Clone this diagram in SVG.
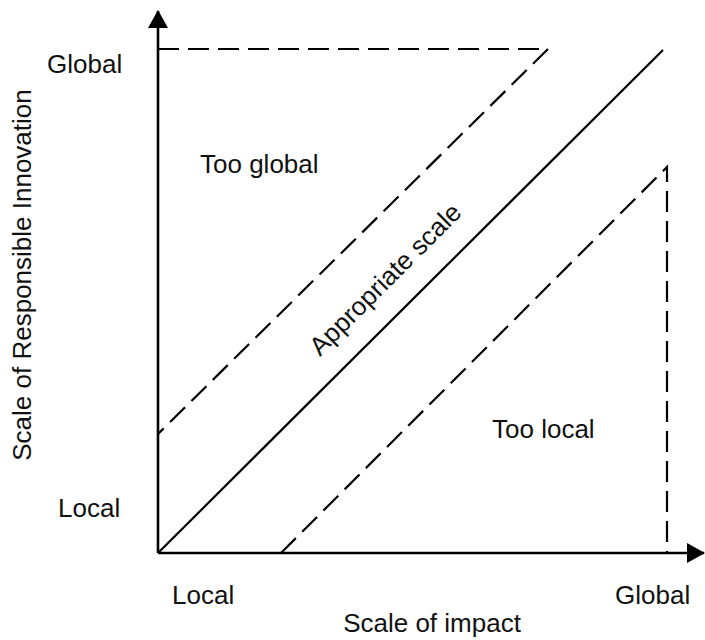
<svg xmlns="http://www.w3.org/2000/svg" width="705" height="640" viewBox="0 0 705 640">
<style>
.t{font-family:"Liberation Sans",Arial,sans-serif;font-size:26px;fill:#111}
.ax{stroke:#000;stroke-width:2.6;fill:none}
.ln{stroke:#000;stroke-width:2.2;fill:none}
.ds{stroke:#000;stroke-width:2.2;fill:none;stroke-dasharray:21 9}
</style>
<defs>
<marker id="ah" viewBox="0 0 18 20" refX="17" refY="10" markerWidth="18" markerHeight="20" markerUnits="userSpaceOnUse" orient="auto">
<path d="M0,0 L18,10 L0,20 Z" fill="#000"/>
</marker>
</defs>
<g id="connectors">
<line class="ax" x1="158" y1="553" x2="158" y2="11" marker-end="url(#ah)"/>
<line class="ax" x1="158" y1="553" x2="704" y2="553" marker-end="url(#ah)"/>
<line class="ln" x1="158" y1="553" x2="663" y2="50"/>
<polyline class="ds" points="158,49 548,49 158,434"/>
<polyline class="ds" points="281,553 667,167 667,553"/>
</g>
<g id="y-global"><text class="t" x="47" y="73">Global</text></g>
<g id="y-local"><text class="t" x="58" y="517">Local</text></g>
<g id="x-local"><text class="t" x="172" y="604">Local</text></g>
<g id="x-global"><text class="t" x="615" y="604">Global</text></g>
<g id="x-title"><text class="t" x="432" y="632" text-anchor="middle">Scale of impact</text></g>
<g id="y-title"><text class="t" transform="translate(31,275) rotate(-90)" text-anchor="middle">Scale of Responsible Innovation</text></g>
<g id="too-global"><text class="t" x="200" y="173">Too global</text></g>
<g id="too-local"><text class="t" x="492" y="438">Too local</text></g>
<g id="appropriate"><text class="t" transform="translate(320,357) rotate(-45)">Appropriate scale</text></g>
</svg>
